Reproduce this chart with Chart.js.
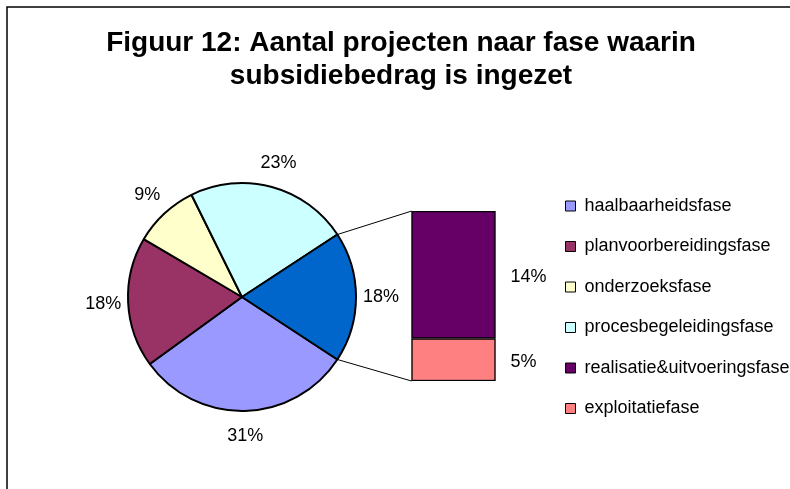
<!DOCTYPE html>
<html>
<head>
<meta charset="utf-8">
<title>Figuur 12</title>
<script src="https://cdn.jsdelivr.net/npm/chart.js@4.4.1/dist/chart.umd.min.js"></script>
<style>
  html, body { margin: 0; padding: 0; background: #fff; }
  #wrap { position: relative; width: 790px; height: 489px; }
  #wrap canvas { position: absolute; left: 0; top: 0; }
  #pieChart { pointer-events: none; }
</style>
</head>
<body>
<div id="wrap">
  <canvas id="barChart" width="790" height="489"></canvas>
  <canvas id="pieChart" width="790" height="489"></canvas>
</div>
<script>
// number of projects per phase
const phases = ['haalbaarheidsfase', 'planvoorbereidingsfase', 'onderzoeksfase',
  'procesbegeleidingsfase', 'realisatie&uitvoeringsfase', 'exploitatiefase'];
const projects = [20, 12, 6, 15, 9, 3];
const phaseColors = ['#9999FF', '#993366', '#FFFFCC', '#CCFFFF', '#660066', '#FF8080'];
const otherColor = '#0066CC';
const pieCount = 4; // first four phases are slices, the rest goes in the bar

const total = projects.reduce((a, b) => a + b, 0);
const pct = v => Math.round(v / total * 100) + '%';

const barPhases = phases.slice(pieCount);
const barValues = projects.slice(pieCount);
const barColors = phaseColors.slice(pieCount);
const otherTotal = barValues.reduce((a, b) => a + b, 0);

const pieValues = projects.slice(0, pieCount).concat([otherTotal]);
const pieColors = phaseColors.slice(0, pieCount).concat([otherColor]);

const FONT = "'Liberation Sans', Arial, sans-serif";
Chart.defaults.font.family = FONT;
Chart.defaults.color = '#000';

/* ================= FRAME + BAR LABELS ================= */
const frame = {
  id: 'frame',
  beforeDraw(chart) {
    const ctx = chart.ctx;
    ctx.save();
    ctx.fillStyle = '#fff';
    ctx.fillRect(0, 0, chart.width, chart.height);
    ctx.strokeStyle = '#000';
    ctx.lineWidth = 1.5;
    ctx.beginPath();
    ctx.moveTo(7, chart.height);
    ctx.lineTo(7, 7);
    ctx.lineTo(chart.width, 7);
    ctx.stroke();
    ctx.restore();
  }
};

const barLabels = {
  id: 'barLabels',
  afterDatasetsDraw(chart) {
    const ctx = chart.ctx;
    ctx.save();
    ctx.font = '18px ' + FONT;
    ctx.fillStyle = '#000';
    ctx.textBaseline = 'middle';
    chart.data.datasets.forEach((ds, i) => {
      const bar = chart.getDatasetMeta(i).data[0];
      ctx.fillText(pct(ds.data[0]), bar.x + bar.width / 2 + 15, (bar.y + bar.base) / 2 + 2);
    });
    ctx.restore();
  }
};

/* ================= BAR (with title + legend) ================= */
// stacked bottom-up, so the last phase is the first dataset
const barDatasets = barPhases.map((p, i) => ({
  label: p,
  data: [barValues[i]],
  backgroundColor: barColors[i],
  borderColor: '#000',
  borderWidth: 1.5,
  borderSkipped: false,
  barThickness: 84
})).reverse();

const barChart = new Chart(document.getElementById('barChart'), {
  type: 'bar',
  data: { labels: [''], datasets: barDatasets },
  options: {
    responsive: false,
    animation: false,
    events: [],
    layout: { padding: { left: 12, bottom: 49 } },
    scales: {
      x: {
        stacked: true,
        grid: { display: false }, border: { display: false }, ticks: { display: false },
        afterFit: s => { s.height = 59; }
      },
      y: {
        stacked: true, min: 0, max: otherTotal,
        grid: { display: false }, border: { display: false }, ticks: { display: false },
        afterFit: s => { s.width = 352; }
      }
    },
    plugins: {
      title: {
        display: true,
        text: ['Figuur 12: Aantal projecten naar fase waarin', 'subsidiebedrag is ingezet'],
        font: { size: 28, weight: 'bold', lineHeight: 1.18 },
        color: '#000',
        padding: { top: 27, bottom: 118 }
      },
      legend: {
        position: 'right',
        align: 'end',
        maxWidth: 247,
        labels: {
          boxWidth: 10,
          boxHeight: 10,
          padding: 22.5,
          font: { size: 18 },
          color: '#000',
          generateLabels: () => phases.map((p, i) => ({
            text: p,
            fillStyle: phaseColors[i],
            strokeStyle: '#000',
            lineWidth: 1,
            hidden: false
          }))
        }
      },
      tooltip: { enabled: false }
    }
  },
  plugins: [frame, barLabels]
});

/* ================= PIE ================= */
const pieLabels = {
  id: 'pieLabels',
  afterDatasetsDraw(chart) {
    const ctx = chart.ctx;
    const arcs = chart.getDatasetMeta(0).data;
    ctx.save();
    ctx.font = '18px ' + FONT;
    ctx.fillStyle = '#000';
    ctx.textAlign = 'center';
    ctx.textBaseline = 'middle';
    arcs.forEach((arc, i) => {
      const mid = (arc.startAngle + arc.endAngle) / 2;
      const r = arc.outerRadius + 25;
      ctx.fillText(pct(pieValues[i]), arc.x + Math.cos(mid) * r, arc.y + Math.sin(mid) * r);
    });

    // lines from the "other" slice to the bar
    const other = arcs[arcs.length - 1];
    const topBar = barChart.getDatasetMeta(barChart.data.datasets.length - 1).data[0];
    const bottomBar = barChart.getDatasetMeta(0).data[0];
    const barLeft = topBar.x - topBar.width / 2;
    ctx.strokeStyle = '#000';
    ctx.lineWidth = 1;
    ctx.beginPath();
    ctx.moveTo(other.x + Math.cos(other.startAngle) * other.outerRadius,
               other.y + Math.sin(other.startAngle) * other.outerRadius);
    ctx.lineTo(barLeft, topBar.y);
    ctx.moveTo(other.x + Math.cos(other.endAngle) * other.outerRadius,
               other.y + Math.sin(other.endAngle) * other.outerRadius);
    ctx.lineTo(barLeft, bottomBar.base);
    ctx.stroke();
    ctx.restore();
  }
};

const pieChart = new Chart(document.getElementById('pieChart'), {
  type: 'pie',
  data: {
    labels: phases.slice(0, pieCount).concat(['overig']),
    datasets: [{
      data: pieValues,
      backgroundColor: pieColors,
      borderColor: '#000',
      borderWidth: 2
    }]
  },
  options: {
    responsive: false,
    animation: false,
    events: [],
    radius: 114,
    // start at the lower edge of the "other" slice so it sits centred at 3 o'clock
    rotation: 90 + otherTotal / total * 180,
    layout: { padding: { top: 105, right: 306 } },
    plugins: {
      legend: { display: false },
      title: { display: false },
      tooltip: { enabled: false }
    }
  },
  plugins: [pieLabels]
});
</script>
</body>
</html>
